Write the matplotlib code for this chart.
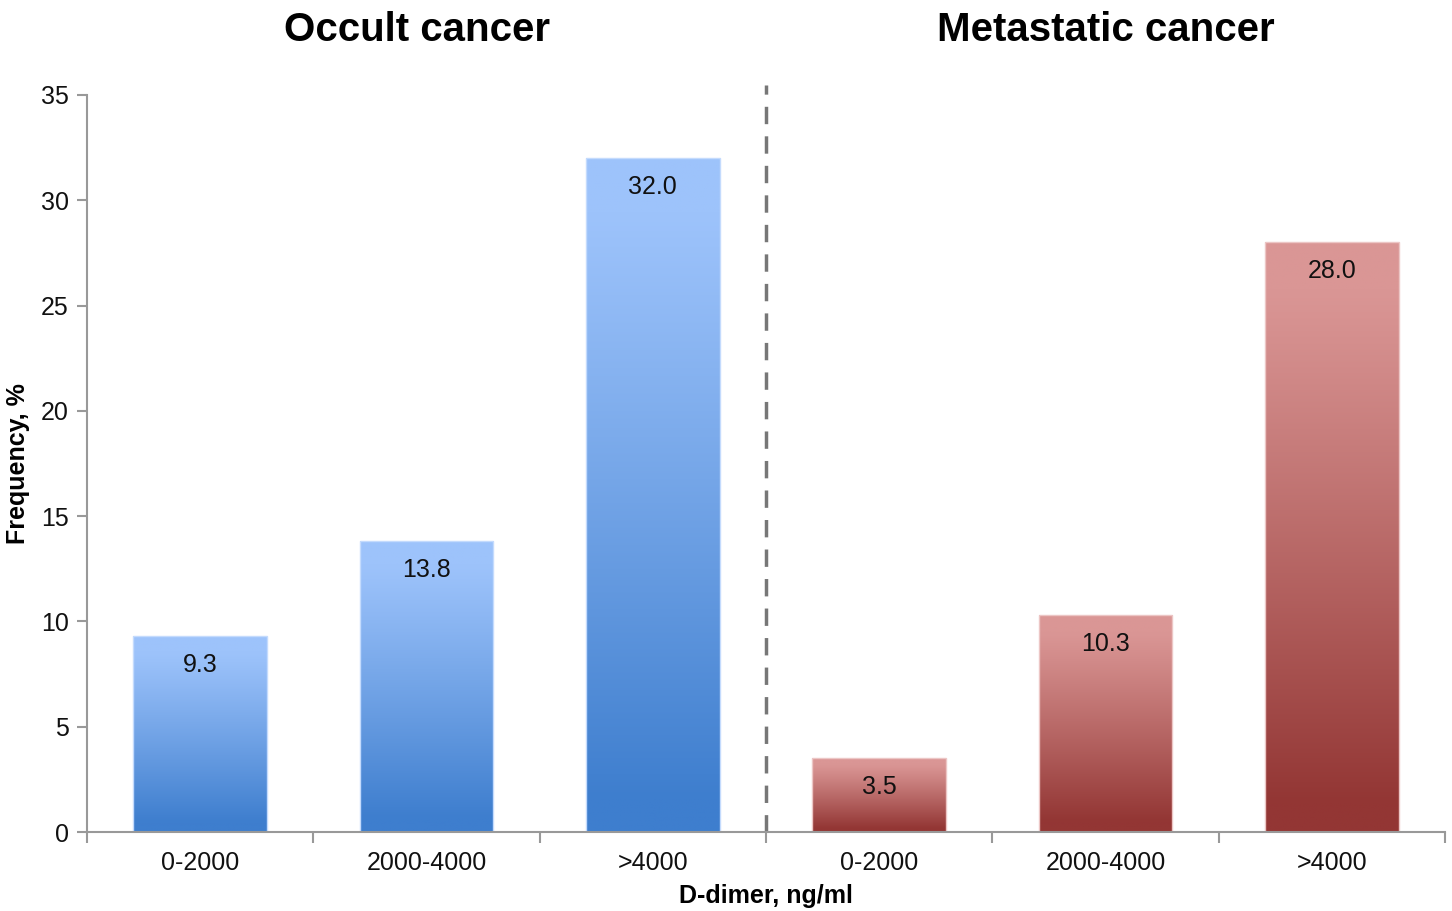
import matplotlib.pyplot as plt
import numpy as np

plt.rcParams['font.family'] = ['Liberation Sans', 'DejaVu Sans']

# data
categories = ['0-2000', '2000-4000', '>4000', '0-2000', '2000-4000', '>4000']
occult = [9.3, 13.8, 32.0]
metastatic = [3.5, 10.3, 28.0]
group_titles = ['Occult cancer', 'Metastatic cancer']

values = occult + metastatic
blue_top, blue_bot = np.array([157, 195, 251]) / 255, np.array([62, 126, 206]) / 255
red_top, red_bot = np.array([218, 150, 149]) / 255, np.array([147, 54, 52]) / 255
colors = [(blue_top, blue_bot)] * len(occult) + [(red_top, red_bot)] * len(metastatic)
edges = ['#c4dbfd'] * len(occult) + ['#ecc6c5'] * len(metastatic)

fig = plt.figure(figsize=(14.52, 9.11), dpi=100)
ax = fig.add_axes([87 / 1452, 1 - 832 / 911, (1445 - 87) / 1452, (832 - 95) / 911])

x = np.arange(len(values))
width = 0.59

# gradient profile: light at top, dark at bottom (smooth)
t = np.linspace(0, 1, 256)
prof = np.clip((t - 0.08) / 0.87, 0, 1)
prof = prof ** 1.1

bars = ax.bar(x, values, width, color='none', edgecolor='none')
for b, (ctop, cbot), ec in zip(bars, colors, edges):
    grad = ctop[None, :] * (1 - prof[:, None]) + cbot[None, :] * prof[:, None]
    img = grad[:, None, :]
    ax.imshow(img, extent=[b.get_x(), b.get_x() + b.get_width(), 0, b.get_height()],
              origin='upper', aspect='auto', zorder=2)
    ax.add_patch(plt.Rectangle((b.get_x(), 0), b.get_width(), b.get_height(),
                               fill=False, edgecolor=ec, lw=1, zorder=2.5))
    ax.annotate(f'{b.get_height():.1f}', (b.get_x() + b.get_width() / 2, b.get_height()),
                xytext=(0, -12), textcoords='offset points', ha='center', va='top',
                fontsize=18, color='#111111', zorder=3)

ax.set_xlim(-0.5, 5.5)
ax.set_ylim(0, 35)
ax.set_yticks(np.arange(0, 36, 5))

ax.set_xticks(np.arange(-0.5, 6, 1))
ax.set_xticklabels([])
ax.set_xticks(x, minor=True)
ax.set_xticklabels(categories, minor=True)
ax.tick_params(axis='x', which='major', length=8, width=1.5, color='#999999', direction='out')
ax.tick_params(axis='x', which='minor', length=0, pad=14, labelsize=18, labelcolor='#111111')
ax.tick_params(axis='y', length=7, width=1.5, color='#999999', direction='out', pad=6,
               labelsize=18, labelcolor='#111111')

for s in ['top', 'right']:
    ax.spines[s].set_visible(False)
for s in ['left', 'bottom']:
    ax.spines[s].set_color('#999999')
    ax.spines[s].set_linewidth(1.5)

ax.axvline(2.5, ymin=0, ymax=1.0136, color='#777777', lw=2.5, ls=(0, (5, 3.5)), clip_on=False)

ax.set_ylabel('Frequency, %', fontsize=18, fontweight='bold', labelpad=8)
ax.set_xlabel('D-dimer, ng/ml', fontsize=18, fontweight='bold', labelpad=6)

ax.text(0.96, 1.088, group_titles[0], transform=ax.get_xaxis_transform(),
        ha='center', va='center', fontsize=29, fontweight='bold')
ax.text(4.0, 1.088, group_titles[1], transform=ax.get_xaxis_transform(),
        ha='center', va='center', fontsize=29, fontweight='bold')

fig.savefig('out.png', dpi=100)
